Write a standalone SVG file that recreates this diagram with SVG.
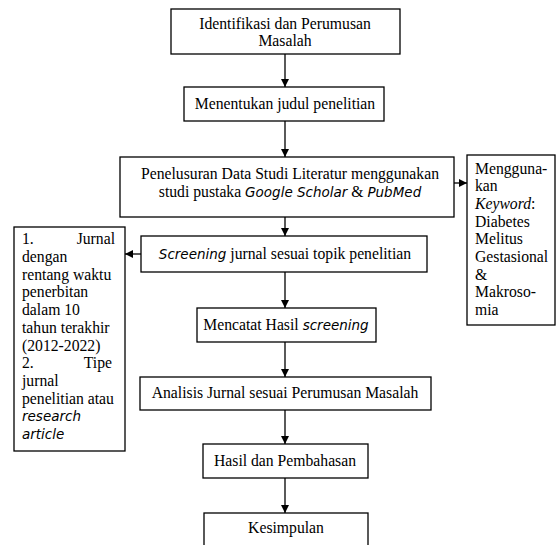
<svg xmlns="http://www.w3.org/2000/svg" width="557" height="545" viewBox="0 0 557 545">
<defs>
<marker id="ah" markerWidth="8" markerHeight="8" refX="8" refY="4" orient="auto" markerUnits="userSpaceOnUse">
<path d="M0,0 L8,4 L0,8 Z" fill="#000"/>
</marker>
<style>
.box{fill:#fff;stroke:#000;stroke-width:1.3}
.t{font-family:"Liberation Serif","Times New Roman",serif;font-size:15.7px;fill:#000}
.c{text-anchor:middle}
.i{font-style:italic}
.si{font-family:"DejaVu Sans","Liberation Sans",sans-serif;font-style:italic;font-size:13.5px}
.cn{stroke:#000;stroke-width:1.3;fill:none;marker-end:url(#ah)}
</style>
</defs>
<rect width="557" height="545" fill="#fff"/>
<g id="connectors">
<line class="cn" x1="285" y1="54" x2="285" y2="87"/>
<line class="cn" x1="285" y1="121" x2="285" y2="157"/>
<line class="cn" x1="454" y1="183" x2="467" y2="183"/>
<line class="cn" x1="285" y1="217" x2="285" y2="236"/>
<line class="cn" x1="141" y1="254" x2="125" y2="254"/>
<line class="cn" x1="285" y1="272" x2="285" y2="308"/>
<line class="cn" x1="285" y1="342" x2="285" y2="377"/>
<line class="cn" x1="285" y1="410" x2="285" y2="444"/>
<line class="cn" x1="285" y1="478" x2="285" y2="513"/>
</g>
<g id="n1">
<rect class="box" x="171" y="9" width="229" height="45"/>
<text class="t c" x="285" y="29">Identifikasi dan Perumusan</text>
<text class="t c" x="285" y="46">Masalah</text>
</g>
<g id="n2">
<rect class="box" x="184" y="87" width="200" height="34"/>
<text class="t c" x="285" y="109">Menentukan judul penelitian</text>
</g>
<g id="n3">
<rect class="box" x="120" y="157" width="334" height="60"/>
<text class="t c" x="290" y="179">Penelusuran Data Studi Literatur menggunakan</text>
<text class="t c" x="290" y="197">studi pustaka <tspan class="si">Google Scholar</tspan> &amp; <tspan class="si">PubMed</tspan></text>
</g>
<g id="n4">
<rect class="box" x="467" y="155" width="88" height="170"/>
<text class="t" x="475" y="173.5">Mengguna-</text>
<text class="t" x="475" y="191.2">kan</text>
<text class="t" x="475" y="208.9"><tspan class="i">Keyword</tspan>:</text>
<text class="t" x="475" y="226.6">Diabetes</text>
<text class="t" x="475" y="244.3">Melitus</text>
<text class="t" x="475" y="262">Gestasional</text>
<text class="t" x="475" y="279.7">&amp;</text>
<text class="t" x="475" y="297.4">Makroso-</text>
<text class="t" x="475" y="315.1">mia</text>
</g>
<g id="n5">
<rect class="box" x="141" y="236" width="286" height="36"/>
<text class="t c" x="285" y="259"><tspan class="si">Screening</tspan> jurnal sesuai topik penelitian</text>
</g>
<g id="n6">
<rect class="box" x="14" y="227" width="111" height="224"/>
<text class="t" x="22" y="244.3">1.</text>
<text class="t" x="115" y="244.3" text-anchor="end">Jurnal</text>
<text class="t" x="22" y="262">dengan</text>
<text class="t" x="22" y="279.7">rentang waktu</text>
<text class="t" x="22" y="297.4">penerbitan</text>
<text class="t" x="22" y="315.1">dalam 10</text>
<text class="t" x="22" y="332.8">tahun terakhir</text>
<text class="t" x="22" y="350.5">(2012-2022)</text>
<text class="t" x="22" y="368.2">2.</text>
<text class="t" x="112" y="368.2" text-anchor="end">Tipe</text>
<text class="t" x="22" y="385.9">jurnal</text>
<text class="t" x="22" y="403.6">penelitian atau</text>
<text class="t si" x="22" y="421.3">research</text>
<text class="t si" x="22" y="439">article</text>
</g>
<g id="n7">
<rect class="box" x="197" y="308" width="179" height="34"/>
<text class="t c" x="286" y="330">Mencatat Hasil <tspan class="si">screening</tspan></text>
</g>
<g id="n8">
<rect class="box" x="140" y="377" width="291" height="33"/>
<text class="t c" x="285" y="398">Analisis Jurnal sesuai Perumusan Masalah</text>
</g>
<g id="n9">
<rect class="box" x="203" y="444" width="165" height="34"/>
<text class="t c" x="285" y="466">Hasil dan Pembahasan</text>
</g>
<g id="n10">
<rect class="box" x="204" y="513" width="164" height="40"/>
<text class="t c" x="286" y="533">Kesimpulan</text>
</g>
</svg>
